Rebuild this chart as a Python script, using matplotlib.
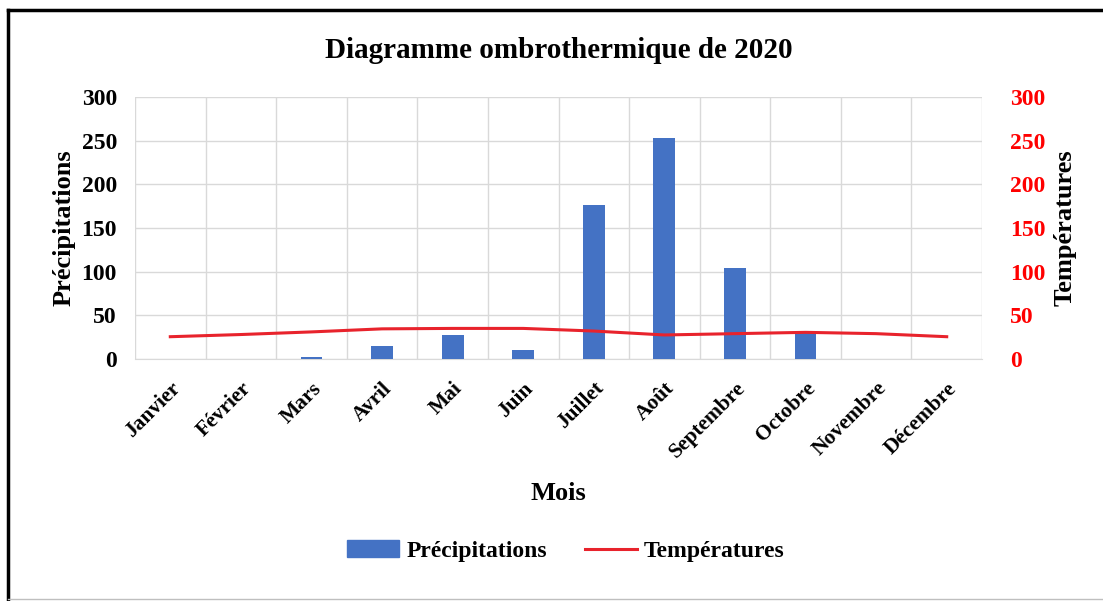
import numpy as np
import matplotlib.pyplot as plt
from matplotlib.lines import Line2D

plt.rcParams['font.family'] = ['Liberation Serif', 'DejaVu Serif']
plt.rcParams['font.weight'] = 'bold'

# données
mois = ['Janvier', 'Février', 'Mars', 'Avril', 'Mai', 'Juin', 'Juillet',
        'Août', 'Septembre', 'Octobre', 'Novembre', 'Décembre']
precip = [0, 0, 2, 15, 28, 10, 176, 253, 104, 31, 0, 0]
temp = [25.5, 28, 31, 34.5, 35, 35, 32, 27.5, 29, 30.5, 29, 25.5]
yticks = [0, 50, 100, 150, 200, 250, 300]

fig = plt.figure(figsize=(11.03, 6.01), dpi=100)
ax = fig.add_axes([0.1224, 0.4027, 0.7679, 0.4359])
x = np.arange(len(mois))

ax.bar(x, precip, width=0.31, color='#4472C4', zorder=3, label='Précipitations')
ax.set_xlim(-0.5, len(mois) - 0.5)
ax.set_ylim(0, 300)
ax.set_yticks(yticks)
ax.set_yticklabels([str(v) for v in yticks], fontsize=17, fontweight='bold')
ax.set_xticks(x)
ax.set_xticklabels(mois, rotation=45, ha='right', rotation_mode='anchor',
                   fontsize=15.5, fontweight='bold')
ax.tick_params(length=0, pad=13)
ax.tick_params(axis='x', pad=14)

# quadrillage
ax.grid(axis='y', color='#D9D9D9', lw=1, zorder=0)
ax.set_xticks(np.arange(-0.5, len(mois)), minor=True)
ax.grid(axis='x', which='minor', color='#D9D9D9', lw=1, zorder=0)
ax.tick_params(which='minor', length=0)
for s in ax.spines.values():
    s.set_visible(False)
ax.spines['bottom'].set_visible(True)
ax.spines['bottom'].set_color('#D9D9D9')

ax.set_ylabel('Précipitations', fontsize=19, fontweight='bold', labelpad=4)
ax.set_xlabel('Mois', fontsize=19, fontweight='bold', labelpad=14)
ax.set_title('Diagramme ombrothermique de 2020', fontsize=21,
             fontweight='bold', pad=28)

ax2 = ax.twinx()
ax2.plot(x, temp, color='#E8232C', lw=2.2, zorder=4, label='Températures')
ax2.set_ylim(0, 300)
ax2.set_yticks(yticks)
ax2.set_yticklabels([str(v) for v in yticks], fontsize=17, fontweight='bold',
                    color='#FF0000')
ax2.tick_params(length=0, pad=20)
for s in ax2.spines.values():
    s.set_visible(False)
ax2.set_ylabel('Températures', fontsize=19, fontweight='bold', labelpad=6)

handles = [plt.Rectangle((0, 0), 1, 1, color='#4472C4'),
           Line2D([0], [0], color='#E8232C', lw=2.2)]
fig.legend(handles, ['Précipitations', 'Températures'], loc='center',
           bbox_to_anchor=(0.513, 0.083), ncol=2, frameon=False,
           prop={'size': 17, 'weight': 'bold'}, handlelength=2.2,
           columnspacing=1.6, handletextpad=0.3)

# cadre
fig.add_artist(Line2D([0.0073, 0.0073], [0, 0.984], color='black', lw=2.5,
                      transform=fig.transFigure))
fig.add_artist(Line2D([0.0073, 1], [0.984, 0.984], color='black', lw=2.5,
                      transform=fig.transFigure))
fig.add_artist(Line2D([0.0073, 1], [0.004, 0.004], color='#BFBFBF', lw=1,
                      transform=fig.transFigure))

fig.savefig('out.png', dpi=100)
